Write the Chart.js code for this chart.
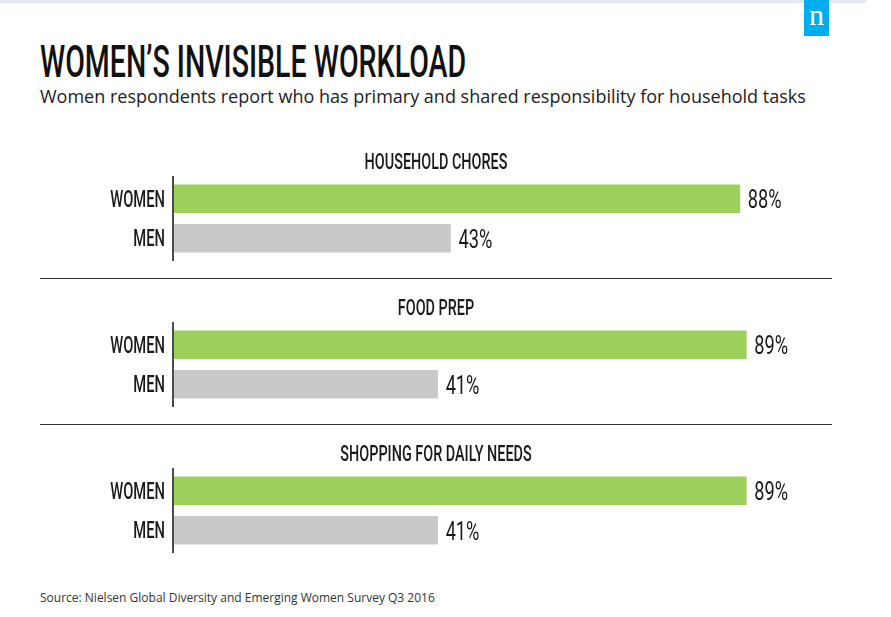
<!DOCTYPE html>
<html>
<head>
<meta charset="utf-8">
<script src="https://cdn.jsdelivr.net/npm/chart.js@4.4.1/dist/chart.umd.min.js"></script>
<style>
  html, body { margin: 0; padding: 0; background: #fff; }
  body { width: 891px; height: 617px; position: relative; overflow: hidden; font-family: "Open Sans", sans-serif; color: #1a1a1a; }
  #topbar { position: absolute; left: 0; top: 0; width: 866px; height: 3px; background: #e4e7eb; }
  #logo { position: absolute; left: 804px; top: 0; width: 25px; height: 36px; background: #00aeef; color: #fff;
          font-family: "Liberation Serif", serif; font-size: 30px; line-height: 30px; text-align: center; }
  #title { position: absolute; left: 40px; top: 39px; margin: 0; font-family: Roboto, sans-serif; font-weight: 500;
           font-size: 45px; line-height: 45px; white-space: nowrap; transform-origin: 0 0; color: #111; }
  #subtitle { position: absolute; left: 40px; top: 87px; font-size: 18px; line-height: 18px; white-space: nowrap; color: #222; }
  #source { position: absolute; left: 40px; top: 592px; font-size: 12px; line-height: 12px; white-space: nowrap; color: #333; }
  .sep { position: absolute; left: 40px; width: 792px; height: 1.5px; background: #333; }
  .panel { position: absolute; left: 0; width: 891px; height: 130px; }
</style>
</head>
<body>
<div id="topbar"></div>
<div id="logo">n</div>
<h1 id="title">WOMEN’S INVISIBLE WORKLOAD</h1>
<div id="subtitle">Women respondents report who has primary and shared responsibility for household tasks</div>
<div class="panel" style="top:140px"><canvas id="chart0"></canvas></div>
<div class="sep" style="top:277.5px"></div>
<div class="panel" style="top:286px"><canvas id="chart1"></canvas></div>
<div class="sep" style="top:423.5px"></div>
<div class="panel" style="top:432px"><canvas id="chart2"></canvas></div>
<div id="source">Source: Nielsen Global Diversity and Emerging Women Survey Q3 2016</div>

<script>
// Données
const panelTitles = ['HOUSEHOLD CHORES', 'FOOD PREP', 'SHOPPING FOR DAILY NEEDS'];
const groups = ['WOMEN', 'MEN'];
const womenValues = [88, 89, 89];
const menValues = [43, 41, 41];

const barColors = ['#9ccf5b', '#c8c9cb'];

// Texte condensé (la police d'origine est étroite)
function drawCondensed(ctx, text, x, y, align, font, sx) {
  ctx.save();
  ctx.font = font;
  ctx.fillStyle = '#1a1a1a';
  ctx.textBaseline = 'alphabetic';
  ctx.textAlign = align;
  ctx.translate(x, y);
  ctx.scale(sx, 1);
  ctx.fillText(text, 0, 0);
  ctx.restore();
}

const panelPlugin = {
  id: 'panelLabels',
  afterDatasetsDraw(chart, args, opts) {
    const ctx = chart.ctx;
    const area = chart.chartArea;
    const xScale = chart.scales.x;
    const yScale = chart.scales.y;

    // ligne d'axe vertical
    ctx.save();
    ctx.strokeStyle = '#111';
    ctx.lineWidth = 1.5;
    ctx.beginPath();
    ctx.moveTo(area.left - 1, area.top - 3);
    ctx.lineTo(area.left - 1, area.bottom + 3);
    ctx.stroke();
    ctx.restore();

    // titre du panneau
    drawCondensed(ctx, opts.title, 436, area.top - 10, 'center', '500 22.5px Roboto', 0.64);

    // étiquettes et valeurs
    const data = chart.data.datasets[0].data;
    chart.data.labels.forEach(function(lab, i) {
      const y = yScale.getPixelForValue(i);
      drawCondensed(ctx, lab, area.left - 9, y + 8, 'right', '500 23px Roboto', 0.64);
      const xv = xScale.getPixelForValue(data[i]);
      drawCondensed(ctx, data[i] + '%', xv + 8, y + 9.5, 'left', '400 26px Roboto', 0.7);
    });
  }
};

function makeChart(k) {
  const ctx = document.getElementById('chart' + k).getContext('2d');
  return new Chart(ctx, {
    type: 'bar',
    data: {
      labels: groups,
      datasets: [{
        data: [womenValues[k], menValues[k]],
        backgroundColor: barColors,
        barThickness: 28,
        borderWidth: 0
      }]
    },
    options: {
      indexAxis: 'y',
      responsive: true,
      maintainAspectRatio: false,
      animation: false,
      layout: { padding: { left: 174, right: 74, top: 39, bottom: 12 } },
      scales: {
        x: { min: 0, max: 100, display: false },
        y: { display: false }
      },
      plugins: {
        legend: { display: false },
        tooltip: { enabled: false },
        panelLabels: { title: panelTitles[k] }
      }
    },
    plugins: [panelPlugin]
  });
}

// ajuster la largeur du titre
const title = document.getElementById('title');
title.style.transform = 'scaleX(' + (426 / title.offsetWidth) + ')';

for (let k = 0; k < panelTitles.length; k++) {
  makeChart(k);
}
</script>
</body>
</html>
